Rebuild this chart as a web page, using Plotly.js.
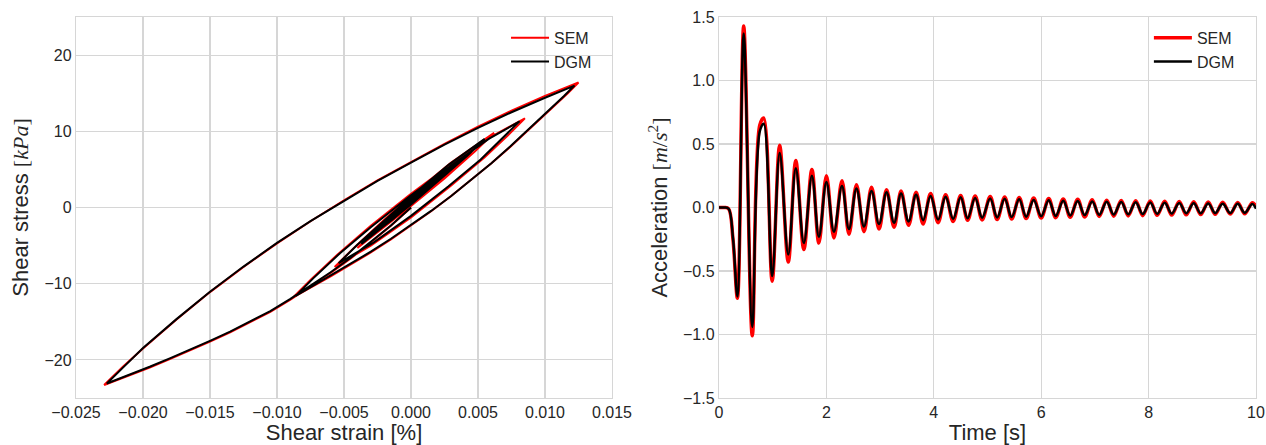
<!DOCTYPE html>
<html><head><meta charset="utf-8">
<script src="https://cdn.plot.ly/plotly-3.0.1.min.js"></script>
<style>html,body{margin:0;padding:0;background:#fff}</style>
</head><body><div id="chart" style="width:1266px;height:445px"></div>
<script>
// ---- Left panel: stress-strain hysteresis ----
const strainSEM = [0,-0.0015,-0.003,-0.0045,-0.006,-0.0075,-0.009,-0.0105,-0.012,-0.0135,-0.015,-0.0165,-0.018,-0.0195,-0.021,-0.0229,
 -0.0215,-0.0200,-0.0175,-0.0150,-0.0125,-0.0100,-0.0075,-0.0050,-0.0025,0.0000,0.0025,0.0050,0.0075,0.0100,0.0125,
 0.0117,0.0105,0.0090,0.0075,0.0060,0.0045,0.0030,0.0015,0.0000,-0.0015,-0.0030,-0.0045,-0.0060,-0.0075,-0.0088,
 -0.0075,-0.0055,-0.0030,0.0000,0.0030,0.0060,0.0085,
 0.0072,0.0055,0.0030,0.0000,-0.0030,-0.0057,
 -0.0042,-0.0020,0.0005,0.0030,0.0062,
 0.0048,0.0025,0.0000,-0.0020,-0.0040,
 -0.0025,0.0000,0.0025,0.0045,
 0.0030,0.0005,-0.0015,-0.0032,
 -0.0015,0.0010,0.0038,
 0.0020,-0.0005,-0.0027,
 -0.0010,0.0012,0.0032,
 0.0015,-0.0005,-0.0022,
 -0.0005,0.0012,0.0028,
 0.0010,-0.0005,-0.0018,
 0.0003,0.0024,
 0.0005,-0.0015,
 0.0003,0.0021,
 0.0005,-0.0012,
 0.0003,0.0019,
 0.0005,-0.0010,
 0.0003,0.0017];
const stressSEM = [0,-2.4,-4.6,-6.7,-8.6,-10.4,-12.1,-13.7,-15.1,-16.4,-17.6,-18.8,-19.9,-21.0,-22.0,-23.3,
 -20.9,-18.5,-14.7,-11.1,-7.8,-4.7,-1.8,0.95,3.55,6.0,8.35,10.6,12.7,14.65,16.4,
 15.0,13.0,10.5,8.1,5.8,3.6,1.5,-0.5,-2.4,-4.2,-5.9,-7.5,-9.05,-10.5,-11.8,
 -9.5,-6.2,-2.4,1.8,5.7,9.3,11.7,
 9.4,6.6,2.9,-1.3,-5.0,-7.8,
 -5.2,-1.6,2.3,5.9,9.8,
 7.4,3.8,0.2,-2.6,-5.3,
 -2.7,1.2,4.8,7.3,
 4.8,1.1,-1.8,-4.0,
 -1.2,2.5,6.3,
 3.4,-0.2,-3.2,
 -0.5,2.7,5.4,
 2.8,-0.1,-2.5,
 0.1,2.6,4.7,
 2.0,-0.1,-1.9,
 1.2,4.2,
 1.5,-1.4,
 1.2,3.7,
 1.5,-1.0,
 1.1,3.4,
 1.4,-0.7,
 1.1,3.1];
const strainDGM = [0,-0.0015,-0.003,-0.0045,-0.006,-0.0075,-0.009,-0.0105,-0.012,-0.0135,-0.015,-0.0165,-0.018,-0.0195,-0.021,-0.0227,
 -0.0214,-0.0200,-0.0175,-0.0150,-0.0125,-0.0100,-0.0075,-0.0050,-0.0025,0.0000,0.0025,0.0050,0.0075,0.0100,0.0122,
 0.0114,0.0102,0.0088,0.0074,0.0060,0.0045,0.0030,0.0015,0.0000,-0.0015,-0.0030,-0.0045,-0.0060,-0.0074,-0.0086,
 -0.0073,-0.0053,-0.0030,0.0000,0.0030,0.0058,0.0081,
 0.0068,0.0052,0.0028,0.0000,-0.0028,-0.0054,
 -0.0040,-0.0018,0.0005,0.0028,0.0055,
 0.0042,0.0020,0.0000,-0.0020,-0.0037,
 -0.0023,0.0000,0.0022,0.0041,
 0.0027,0.0005,-0.0014,-0.0030,
 -0.0014,0.0010,0.0035,
 0.0018,-0.0005,-0.0025,
 -0.0009,0.0012,0.0030,
 0.0014,-0.0005,-0.0020,
 -0.0004,0.0012,0.0026,
 0.0009,-0.0005,-0.0016,
 0.0003,0.0022,
 0.0005,-0.0013,
 0.0003,0.0019,
 0.0005,-0.0011,
 0.0003,0.0017];
const stressDGM = [0,-2.35,-4.5,-6.6,-8.5,-10.3,-12.0,-13.6,-15.0,-16.3,-17.5,-18.7,-19.8,-20.9,-21.9,-23.1,
 -20.85,-18.45,-14.65,-11.05,-7.75,-4.65,-1.8,0.9,3.5,5.9,8.25,10.45,12.5,14.4,16.0,
 14.6,12.6,10.3,8.0,5.8,3.6,1.5,-0.45,-2.3,-4.1,-5.8,-7.35,-8.85,-10.25,-11.6,
 -9.3,-6.0,-2.6,1.6,5.5,9.0,11.3,
 9.0,6.3,2.8,-1.1,-4.6,-7.3,
 -4.9,-1.4,2.2,5.6,9.0,
 6.8,3.4,0.4,-2.4,-4.8,
 -2.4,1.2,4.4,6.8,
 4.5,1.2,-1.6,-3.7,
 -1.0,2.5,5.9,
 3.2,-0.1,-2.9,
 -0.4,2.6,5.1,
 2.7,0.0,-2.2,
 0.3,2.6,4.5,
 1.9,0.0,-1.6,
 1.2,4.0,
 1.5,-1.2,
 1.2,3.5,
 1.4,-0.8,
 1.1,3.2];

// ---- Right panel: acceleration time history (peaks/troughs) ----
const timeS = [0,0.1,0.18,0.26,0.343,0.46,0.62,0.76,0.833,0.99,1.13,1.29,1.43,1.58,1.73,1.86,
 2.00,2.14,2.29,2.42,2.56,2.70,2.84,2.98,3.12,3.26,3.39,3.53,3.67,3.80,3.94,4.08,4.22,4.36,4.50,4.63,4.77,4.90,
 5.05,5.18,5.32,5.45,5.59,5.72,5.86,6.00,6.14,6.27,6.41,6.54,6.68,6.81,6.95,7.08,7.22,7.35,7.49,7.62,7.76,7.89,
 8.03,8.16,8.30,8.43,8.57,8.70,8.84,8.97,9.11,9.24,9.38,9.52,9.66,9.79,9.93,10.0];
const accSEM = [0,0,-0.01,-0.25,-0.715,1.43,-1.01,0.65,0.705,-0.58,0.49,-0.43,0.37,-0.33,0.30,-0.28,
 0.25,-0.24,0.21,-0.21,0.18,-0.19,0.16,-0.17,0.14,-0.155,0.13,-0.14,0.12,-0.13,0.11,-0.12,0.10,-0.11,0.095,-0.10,0.09,-0.098,
 0.086,-0.095,0.082,-0.09,0.078,-0.087,0.074,-0.083,0.07,-0.08,0.067,-0.077,0.064,-0.074,0.061,-0.071,0.058,-0.068,0.056,-0.066,0.054,-0.064,
 0.052,-0.062,0.05,-0.06,0.048,-0.058,0.046,-0.056,0.044,-0.054,0.042,-0.052,0.04,-0.05,0.038,0.01];
const accDGM = [0,0,-0.01,-0.24,-0.70,1.37,-0.94,0.60,0.66,-0.54,0.43,-0.37,0.31,-0.28,0.25,-0.23,
 0.20,-0.19,0.17,-0.17,0.15,-0.15,0.13,-0.13,0.12,-0.12,0.11,-0.11,0.10,-0.10,0.09,-0.095,0.085,-0.09,0.08,-0.085,0.075,-0.08,
 0.07,-0.078,0.068,-0.075,0.064,-0.072,0.06,-0.069,0.057,-0.066,0.054,-0.063,0.051,-0.06,0.048,-0.058,0.046,-0.056,0.044,-0.054,0.042,-0.052,
 0.04,-0.05,0.038,-0.048,0.036,-0.046,0.034,-0.045,0.032,-0.044,0.030,-0.043,0.029,-0.042,0.028,-0.01];

// ---- Tick values ----
const strainTicks = [-0.025,-0.020,-0.015,-0.010,-0.005,0.000,0.005,0.010,0.015];
const stressTicks = [-20,-10,0,10,20];
const timeTicks = [0,2,4,6,8,10];
const accTicks = [-1.5,-1.0,-0.5,0.0,0.5,1.0,1.5];

const RED = '#ff0000', BLACK = '#000000';
const GRID = '#d6d6d6';
const TXT = '#262626';
const MATH = "'Liberation Serif', 'DejaVu Serif', serif";

const traces = [
  {x: strainSEM, y: stressSEM, xaxis:'x', yaxis:'y', mode:'lines', name:'SEM',
   line:{color:RED, width:2}, legend:'legend'},
  {x: strainDGM, y: stressDGM, xaxis:'x', yaxis:'y', mode:'lines', name:'DGM',
   line:{color:BLACK, width:2}, legend:'legend'},
  {x: timeS, y: accSEM, xaxis:'x2', yaxis:'y2', mode:'lines', name:'SEM',
   line:{color:RED, width:3.5, shape:'spline', smoothing:1}, legend:'legend2'},
  {x: timeS, y: accDGM, xaxis:'x2', yaxis:'y2', mode:'lines', name:'DGM',
   line:{color:BLACK, width:2.5, shape:'spline', smoothing:1}, legend:'legend2'}
];

function axisBase() {
  return {showgrid:true, gridcolor:GRID, gridwidth:1.2, showline:true, linecolor:GRID, linewidth:1.2,
    mirror:true, zeroline:false, ticks:'', tickfont:{size:16, color:TXT}, automargin:false};
}

const layout = {
  width:1266, height:445,
  margin:{l:0, r:0, t:17, b:47},
  paper_bgcolor:'#ffffff', plot_bgcolor:'#ffffff',
  font:{family:"'Liberation Sans', Arial, sans-serif", color:TXT},
  xaxis: Object.assign(axisBase(), {domain:[0.06003,0.48341], range:[-0.025,0.015], anchor:'y',
    tickvals:strainTicks, tickformat:'.3f',
    title:{text:'Shear strain [%]', font:{size:22, color:TXT}, standoff:4}}),
  yaxis: Object.assign(axisBase(), {domain:[0,1], range:[-25,25], anchor:'x',
    tickvals:stressTicks,
    title:{text:'Shear stress <span style="font-family:'+MATH+'">[<i>kPa</i>]</span>', font:{size:22, color:TXT}, standoff:9}}),
  xaxis2: Object.assign(axisBase(), {domain:[0.56793,0.99210], range:[0,10], anchor:'y2',
    tickvals:timeTicks,
    title:{text:'Time [s]', font:{size:22, color:TXT}, standoff:4}}),
  yaxis2: Object.assign(axisBase(), {domain:[0,1], range:[-1.5,1.5], anchor:'x2',
    tickvals:accTicks, tickformat:'.1f',
    title:{text:'Acceleration <span style="font-family:'+MATH+'">[<i>m</i>/<i>s</i><sup>2</sup>]</span>', font:{size:22, color:TXT}, standoff:9}}),
  legend:{x:0.3997, y:0.99, xanchor:'left', yanchor:'top', bgcolor:'rgba(0,0,0,0)', borderwidth:0,
    itemwidth:38, font:{size:16, color:TXT}},
  legend2:{x:0.9075, y:0.99, xanchor:'left', yanchor:'top', bgcolor:'rgba(0,0,0,0)', borderwidth:0,
    itemwidth:38, font:{size:16, color:TXT}},
  showlegend:true
};

Plotly.newPlot('chart', traces, layout, {staticPlot:true, displayModeBar:false});
</script></body></html>
